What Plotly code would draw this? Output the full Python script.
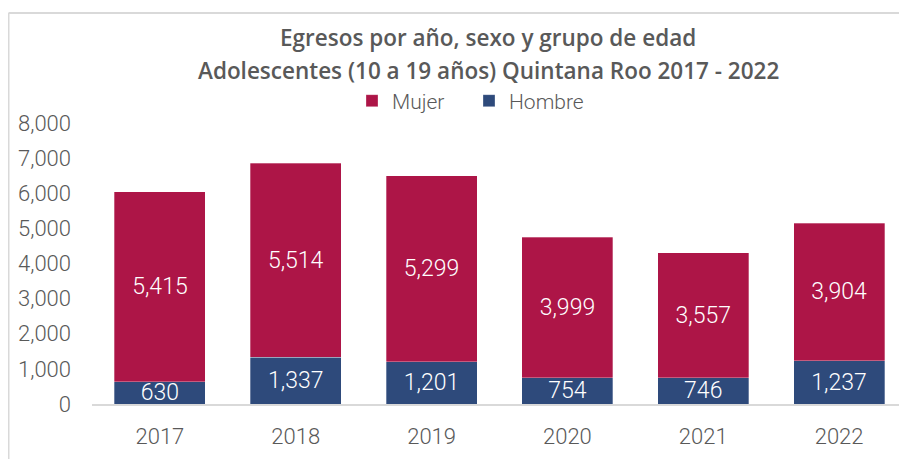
import plotly.graph_objects as go

years = ["2017", "2018", "2019", "2020", "2021", "2022"]
mujer = [5415, 5514, 5299, 3999, 3557, 3904]
hombre = [630, 1337, 1201, 754, 746, 1237]
y_ticks = [0, 1000, 2000, 3000, 4000, 5000, 6000, 7000, 8000]
title_lines = ["Egresos por año, sexo y grupo de edad",
               "Adolescentes (10 a 19 años) Quintana Roo 2017 - 2022"]

C_M = "#AD1547"
C_H = "#2E4A7B"
GRAY = "#595959"
LFONT = dict(family="Roboto", weight=300)

W, H = 899, 451
L, R, T, B = 84, 0, 115, 55
PW, PH = W - L - R, H - T - B

fig = go.Figure()
for name, vals, col in [("Hombre", hombre, C_H), ("Mujer", mujer, C_M)]:
    fig.add_trace(go.Bar(
        x=years, y=vals, name=name,
        marker=dict(color=col, line=dict(color="rgba(255,255,255,0.6)", width=0.5)),
        texttemplate="%{y:,}", textposition="inside", insidetextanchor="middle",
        textfont=dict(color="white", size=23, **LFONT), constraintext="none",
    ))

for txt, fy in zip(title_lines, [29, 62]):
    fig.add_annotation(
        text=txt, xref="paper", yref="paper",
        x=(480 - L) / PW, y=(H - B - fy) / PH, xanchor="center", yanchor="middle",
        showarrow=False, font=dict(family="Open Sans", size=22.5, color=GRAY, weight=600),
    )

fig.update_layout(
    barmode="stack", bargap=0.33,
    width=W, height=H,
    margin=dict(l=L, r=R, t=T, b=B),
    paper_bgcolor="white", plot_bgcolor="white",
    font=dict(family="Roboto", color=GRAY),
    uniformtext=dict(minsize=20, mode="show"),
    legend=dict(
        orientation="h", x=(344 - L) / PW, xanchor="left",
        y=(H - B - 93) / PH, yanchor="middle",
        traceorder="reversed", font=dict(size=21, color=GRAY, **LFONT),
        itemwidth=30, entrywidth=72, entrywidthmode="pixels",
        bgcolor="rgba(0,0,0,0)",
    ),
    xaxis=dict(
        showline=True, linecolor="#D9D9D9", linewidth=2, showgrid=False,
        tickfont=dict(size=22, color=GRAY, **LFONT), ticks="",
        ticklabelstandoff=12,
    ),
    yaxis=dict(
        range=[0, 8000], tickvals=y_ticks, tickformat=",", showgrid=False,
        showline=False, zeroline=False, ticks="",
        tickfont=dict(size=22, color=GRAY, **LFONT),
        ticklabelstandoff=20,
    ),
    shapes=[
        dict(type="line", xref="paper", yref="paper", x0=(0.5 - L) / PW, x1=(0.5 - L) / PW,
             y0=-B / PH, y1=(H - B - 5) / PH, line=dict(color="#D9D9D9", width=2)),
        dict(type="line", xref="paper", yref="paper", x0=(0.5 - L) / PW, x1=1.0,
             y0=(H - B - 5) / PH, y1=(H - B - 5) / PH, line=dict(color="#D9D9D9", width=2)),
    ],
)

fig.write_html("out.html")
